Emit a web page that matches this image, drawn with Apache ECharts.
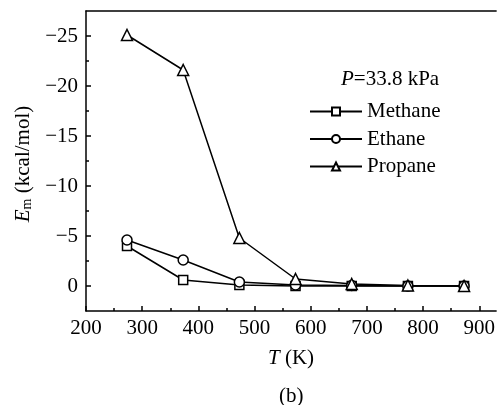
<!DOCTYPE html>
<html><head><meta charset="utf-8">
<script src="https://cdn.jsdelivr.net/npm/echarts@6/dist/echarts.min.js"></script>
<style>html,body{margin:0;padding:0;background:#fff}#c{width:498px;height:405px}</style>
</head><body><div id="c"></div>
<script>
const temperatures = [273, 373, 473, 573, 673, 773, 873];
const methane = [-4.0, -0.6, -0.1, 0, 0, 0, 0];
const ethane = [-4.6, -2.6, -0.4, -0.1, -0.05, 0, 0];
const propane = [-25.1, -21.6, -4.8, -0.7, -0.2, -0.05, 0];
const seriesNames = ['Methane', 'Ethane', 'Propane'];
const xMajorTicks = [200, 300, 400, 500, 600, 700, 800, 900];
const xMinorTicks = [250, 350, 450, 550, 650, 750, 850];
const yMajorTicks = [-25, -20, -15, -10, -5, 0];
const yMinorTicks = [-22.5, -17.5, -12.5, -7.5, -2.5];

const FONT = '"Liberation Serif", "Times New Roman", serif';
const FS = 21;
const pair = (xs, ys) => xs.map((x, i) => [x, ys[i]]);
const fmt = v => v < 0 ? '\u2212' + Math.abs(v) : String(v);

const chart = echarts.init(document.getElementById('c'), null, {renderer: 'canvas'});
const lineStyle = {color: '#000', width: 1.5};
const itemStyle = {color: '#fff', borderColor: '#000', borderWidth: 1.5};
const mk = (name, data, symbol, size) => ({
  name, type: 'line', data, symbol, symbolSize: size, showAllSymbol: true,
  lineStyle, itemStyle, animation: false, z: 3
});
const axLine = {show: true, onZero: false, lineStyle: {color: '#000', width: 1.5}};
const tickStyle = {color: '#000', width: 1.5};

chart.setOption({
  animation: false,
  backgroundColor: '#fff',
  textStyle: {fontFamily: FONT, color: '#000'},
  grid: {left: 86, top: 11, right: 0, height: 300, containLabel: false},
  title: {
    text: '{i|P}=33.8 kPa', left: 336, top: 64, padding: 5,
    textStyle: {fontFamily: FONT, fontSize: FS, fontWeight: 'normal', color: '#000',
      rich: {i: {fontFamily: FONT, fontStyle: 'italic', fontSize: FS, color: '#000'}}}
  },
  legend: {
    orient: 'vertical', left: 309, top: 101, padding: 0, itemWidth: 52, itemHeight: 10, itemGap: 6.5,
    data: seriesNames,
    textStyle: {fontFamily: FONT, fontSize: FS, color: '#000'}
  },
  graphic: [{
    type: 'text', left: 279, top: 386,
    style: {text: '(b)', font: FS + 'px ' + FONT, fill: '#000'}
  }],
  xAxis: [{
    type: 'value', min: 200, max: 930, interval: 100,
    name: '{i|T} (K)', nameLocation: 'middle', nameGap: 37,
    nameTextStyle: {fontFamily: FONT, fontSize: FS, color: '#000',
      rich: {i: {fontFamily: FONT, fontStyle: 'italic', fontSize: FS}}},
    axisLine: axLine,
    axisTick: {show: true, inside: true, length: 5, customValues: xMajorTicks, lineStyle: tickStyle},
    axisLabel: {fontFamily: FONT, fontSize: FS, color: '#000', margin: 7, customValues: xMajorTicks},
    splitLine: {show: false}
  }, {
    type: 'value', position: 'top', min: 200, max: 930,
    axisLine: axLine,
    axisTick: {show: false}, axisLabel: {show: false}, splitLine: {show: false}
  }, {
    type: 'value', position: 'bottom', offset: 0, min: 200, max: 930,
    axisLine: {show: false, onZero: false},
    axisTick: {show: true, inside: true, length: 3, customValues: xMinorTicks, lineStyle: tickStyle},
    axisLabel: {show: false}, splitLine: {show: false}
  }],
  yAxis: [{
    type: 'value', inverse: true, min: -27.5, max: 2.5, interval: 2.5,
    name: '{i|E}{s|m} (kcal/mol)', nameLocation: 'middle', nameGap: 47, nameRotate: 90,
    nameTextStyle: {fontFamily: FONT, fontSize: FS, color: '#000', padding: [0, 6, 0, 0],
      rich: {i: {fontFamily: FONT, fontStyle: 'italic', fontSize: FS},
             s: {fontFamily: FONT, fontSize: 14, verticalAlign: 'bottom', padding: [8, 0, 0, 0]}}},
    axisLine: axLine,
    axisTick: {show: true, inside: true, length: 5, customValues: yMajorTicks, lineStyle: tickStyle},
    axisLabel: {fontFamily: FONT, fontSize: FS, color: '#000', margin: 8, customValues: yMajorTicks, formatter: fmt},
    splitLine: {show: false}
  }, {
    type: 'value', position: 'left', offset: 0, inverse: true, min: -27.5, max: 2.5, interval: 2.5,
    axisLine: {show: false, onZero: false},
    axisTick: {show: true, inside: true, length: 3, customValues: yMinorTicks, lineStyle: tickStyle},
    axisLabel: {show: false}, splitLine: {show: false}
  }],
  series: [
    mk('Methane', pair(temperatures, methane), 'rect', 9),
    mk('Ethane', pair(temperatures, ethane), 'circle', 10),
    mk('Propane', pair(temperatures, propane), 'triangle', 11)
  ]
});
</script></body></html>
